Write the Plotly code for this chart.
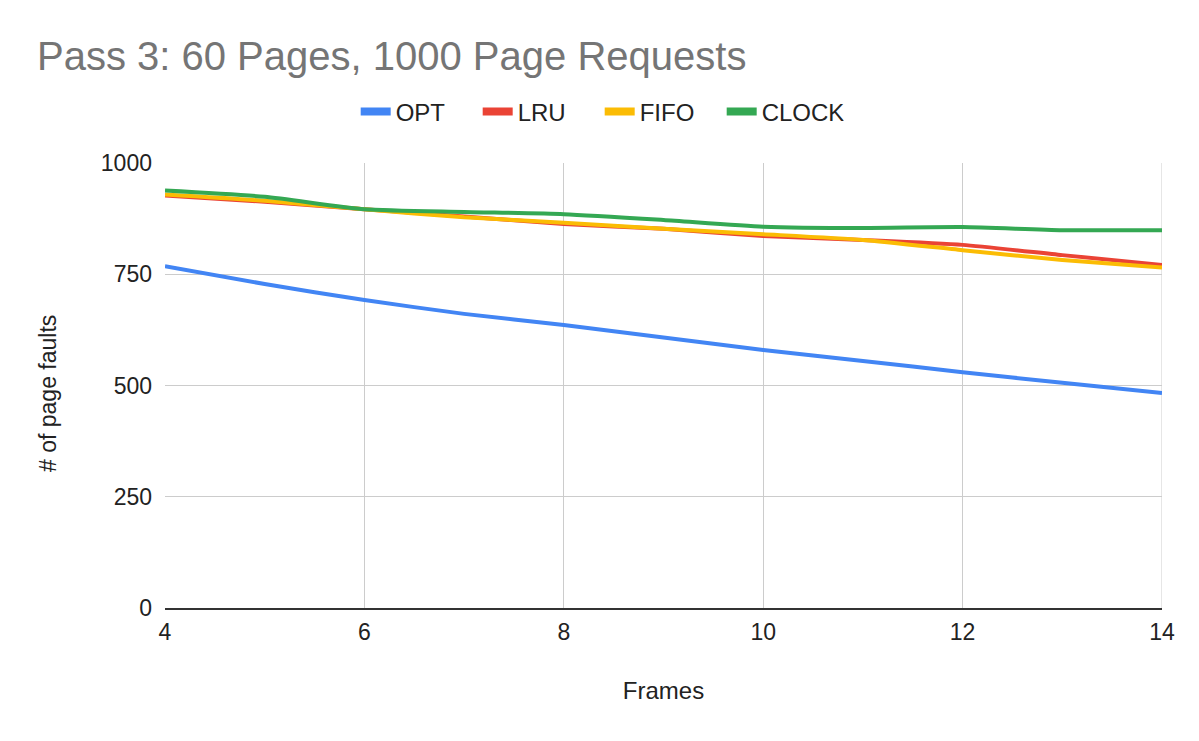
import plotly.graph_objects as go

frames = [4, 5, 6, 7, 8, 9, 10, 11, 12, 13, 14]
opt = [768, 728, 692, 661, 636, 608, 580, 555, 530, 506, 483]
lru = [927, 913, 896, 880, 863, 852, 836, 827, 816, 793, 771]
fifo = [929, 915, 896, 878, 866, 852, 840, 827, 804, 782, 765]
clock = [938, 924, 896, 890, 885, 872, 857, 854, 856, 849, 849]

series = [("OPT", opt, "#4285F4"), ("LRU", lru, "#EA4335"),
          ("FIFO", fifo, "#FBBC04"), ("CLOCK", clock, "#34A853")]

fig = go.Figure()
for name, vals, col in series:
    fig.add_trace(go.Scatter(x=frames, y=vals, name=name, mode="lines", legendgroup=name, showlegend=False,
                             line=dict(color=col, width=4, shape="spline", smoothing=0.6)))
for name, vals, col in series:
    fig.add_trace(go.Scatter(x=[None], y=[None], name=name, mode="lines", legendgroup=name,
                             line=dict(color=col, width=8)))

font = "Liberation Sans, Arial, sans-serif"
fig.update_layout(
    width=1199, height=741,
    margin=dict(l=165, r=37, t=163, b=133),
    paper_bgcolor="white", plot_bgcolor="white",
    font=dict(family=font, color="#222222"),
    title=dict(text="Pass 3: 60 Pages, 1000 Page Requests", font=dict(size=40, color="#757575", family=font),
               xref="container", x=37 / 1199, xanchor="left", yref="container", y=1 - 56 / 741, yanchor="middle"),
    legend=dict(orientation="h", x=0.436, xanchor="center", y=1.115, yanchor="middle",
                font=dict(size=24, color="#222222"), entrywidth=77, entrywidthmode="pixels"),
    showlegend=True,
)
fig.update_xaxes(range=[4, 14], tickvals=[4, 6, 8, 10, 12, 14], showgrid=True, gridcolor="#cccccc", gridwidth=1,
                 zeroline=False, showline=True, linecolor="#333333", linewidth=1.5,
                 tickfont=dict(size=23, color="#222222"), ticks="", ticklabelstandoff=3,
                 title=dict(text="Frames", font=dict(size=24, color="#222222"), standoff=38))
fig.update_yaxes(range=[0, 1000], tickvals=[0, 250, 500, 750, 1000], showgrid=True, gridcolor="#cccccc", gridwidth=1,
                 zeroline=False, showline=False, tickfont=dict(size=23, color="#222222"), ticklabelstandoff=12)
fig.add_annotation(text="# of page faults", xref="paper", yref="paper", x=(48 - 165) / 997, y=(608 - 394) / 445,
                   xanchor="center", yanchor="middle", textangle=-90, showarrow=False,
                   font=dict(size=23, color="#222222", family=font))
fig.add_shape(type="line", xref="x", yref="paper", x0=14, x1=14, y0=0, y1=1, line=dict(color="#cccccc", width=1), layer="below")
fig.write_html("out.html")
